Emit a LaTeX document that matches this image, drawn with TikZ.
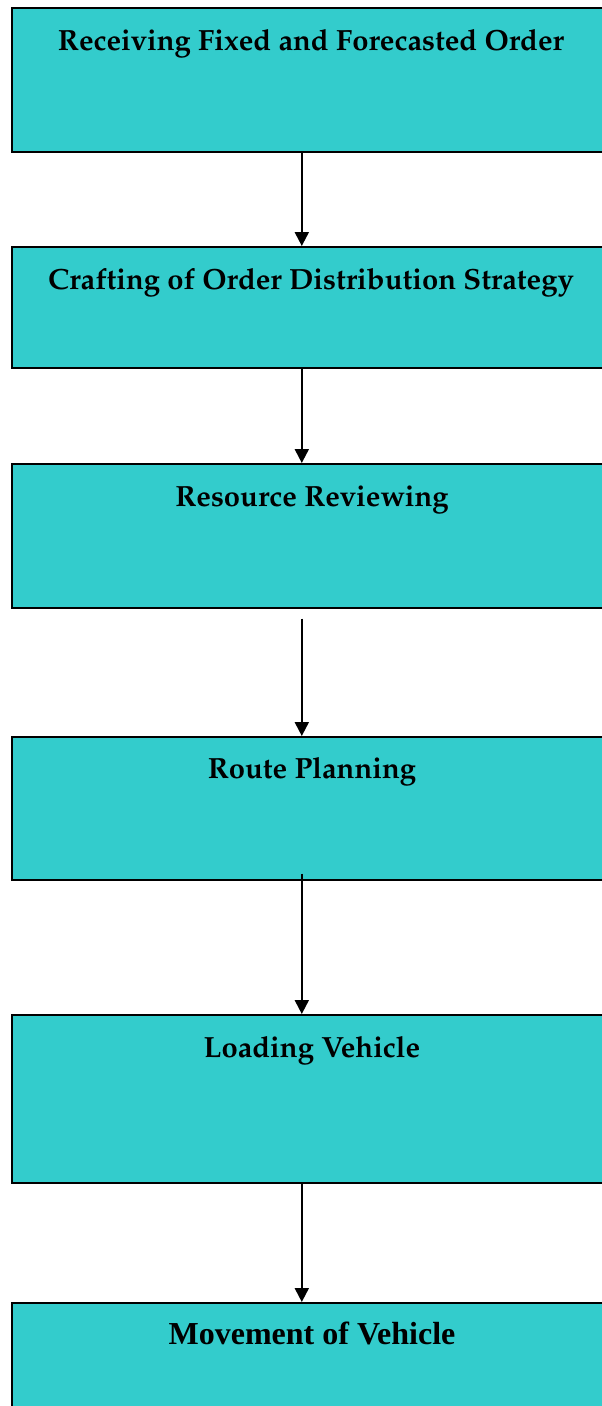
\documentclass[tikz,border=0pt]{standalone}
\usepackage[T1]{fontenc}
\usepackage{fontspec}
\newfontfamily\timesbf{Liberation Serif}[BoldFont={* Bold}]
\usetikzlibrary{arrows.meta,calc}
\definecolor{boxfill}{RGB}{51,204,204}
\begin{document}
\begin{tikzpicture}[x=1pt,y=1pt,
  stagebox/.style={draw=black, line width=1.6pt, fill=boxfill, minimum width=602pt, inner sep=0pt, anchor=north west},
  stagetext/.style={anchor=base, inner sep=0pt, font=\fontsize{29.2}{34}\usefont{T1}{ppl}{b}{n}},
  flow/.style={line width=2pt, -{Triangle[length=14pt,width=14pt]}}]
  \useasboundingbox (0,0) rectangle (602,-1406);

  % process stages, top to bottom
  \node[stagebox, minimum height=144pt] (b1) at (11,-7) {};
  \node[stagebox, minimum height=121pt] (b2) at (11,-246) {};
  \node[stagebox, minimum height=144pt] (b3) at (11,-463) {};
  \node[stagebox, minimum height=143pt] (b4) at (11,-736) {};
  \node[stagebox, minimum height=168pt] (b5) at (11,-1014) {};
  \node[stagebox, minimum height=140pt] (b6) at (11,-1302) {};

  % stage titles
  \node[stagetext] (t1) at (311,-50) {Receiving Fixed and Forecasted Order};
  \node[stagetext] (t2) at (311,-289) {Crafting of Order Distribution Strategy};
  \node[stagetext] (t3) at (312,-506) {Resource Reviewing};
  \node[stagetext] (t4) at (312,-778) {Route Planning};
  \node[stagetext] (t5) at (312,-1057) {Loading Vehicle};
  \node[stagetext, font=\fontsize{32}{38}\timesbf\bfseries] (t6) at (312,-1344) {Movement of Vehicle};

  % connectors
  \coordinate (s3) at ($(b3.south)+(-11,-10)$);
  \coordinate (s4) at ($(b4.south)+(-11,7)$);
  \draw[flow] ($(b1.south)+(-11,0)$) -- ($(b2.north)+(-11,0)$);
  \draw[flow] ($(b2.south)+(-11,0)$) -- ($(b3.north)+(-11,0)$);
  \draw[flow] (s3) -- ($(b4.north)+(-11,0)$);
  \draw[flow] (s4) -- ($(b5.north)+(-11,0)$);
  \draw[flow] ($(b5.south)+(-11,0)$) -- ($(b6.north)+(-11,0)$);
\end{tikzpicture}
\end{document}
